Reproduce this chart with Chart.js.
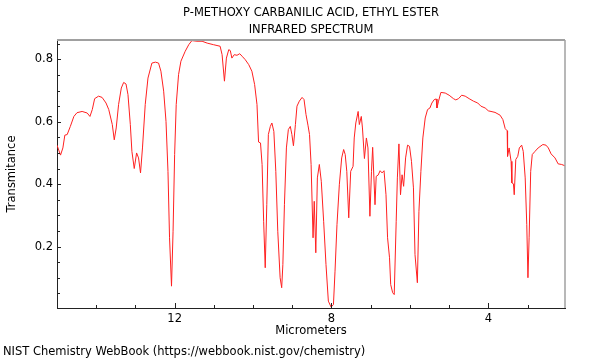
<!DOCTYPE html>
<html>
<head>
<meta charset="utf-8">
<script src="https://cdn.jsdelivr.net/npm/chart.js@4"></script>
<style>
  html, body { margin: 0; padding: 0; background: #fff; }
  #wrap { width: 600px; height: 360px; }
</style>
</head>
<body>
<div id="wrap"><canvas id="ir-canvas" width="600" height="360"></canvas></div>
<script>
// IR spectrum (wavelength in micrometers, transmittance)
const wavelength = [15.00,14.91,14.85,14.80,14.74,14.66,14.57,14.49,14.36,14.23,
  14.16,14.10,14.04,13.94,13.85,13.75,13.68,13.59,13.54,13.49,
  13.43,13.36,13.30,13.24,13.19,13.13,13.09,13.03,12.97,12.92,
  12.87,12.82,12.75,12.68,12.58,12.49,12.41,12.35,12.28,12.22,
  12.17,12.13,12.08,12.04,12.00,11.96,11.90,11.84,11.73,11.64,
  11.56,11.43,11.30,11.17,11.01,10.84,10.79,10.73,10.68,10.62,
  10.58,10.54,10.48,10.41,10.34,10.28,10.20,10.11,10.03,9.96,
  9.90,9.86,9.81,9.77,9.73,9.69,9.65,9.61,9.56,9.52,
  9.47,9.42,9.37,9.31,9.27,9.24,9.20,9.15,9.10,9.05,
  9.01,8.97,8.92,8.88,8.82,8.75,8.70,8.65,8.60,8.56,
  8.52,8.47,8.44,8.40,8.36,8.31,8.26,8.20,8.14,8.08,
  8.01,7.95,7.91,7.86,7.80,7.74,7.69,7.65,7.61,7.56,
  7.51,7.45,7.42,7.38,7.32,7.29,7.24,7.21,7.16,7.11,
  7.07,7.02,6.98,6.95,6.89,6.86,6.81,6.76,6.71,6.66,
  6.61,6.57,6.52,6.49,6.44,6.40,6.35,6.32,6.28,6.24,
  6.20,6.16,6.11,6.06,6.01,5.96,5.91,5.87,5.81,5.77,
  5.72,5.67,5.61,5.55,5.49,5.44,5.38,5.33,5.31,5.27,
  5.21,5.10,5.00,4.89,4.83,4.76,4.68,4.59,4.49,4.38,
  4.27,4.19,4.08,4.00,3.83,3.70,3.63,3.57,3.52,3.51,
  3.47,3.45,3.42,3.40,3.36,3.34,3.30,3.25,3.21,3.15,
  3.11,3.06,3.02,2.99,2.96,2.92,2.88,2.81,2.73,2.61,
  2.53,2.47,2.40,2.30,2.22,2.13,2.05];

const transmittance = [0.525,0.493,0.516,0.557,0.559,0.585,0.617,0.629,0.633,0.628,
  0.617,0.639,0.674,0.682,0.678,0.660,0.639,0.591,0.542,0.580,
  0.655,0.708,0.726,0.721,0.687,0.591,0.505,0.450,0.500,0.484,
  0.436,0.516,0.655,0.740,0.788,0.791,0.788,0.762,0.698,0.601,
  0.441,0.228,0.073,0.249,0.495,0.655,0.751,0.794,0.826,0.847,
  0.860,0.858,0.858,0.852,0.847,0.842,0.815,0.730,0.804,0.831,
  0.828,0.804,0.815,0.813,0.818,0.810,0.799,0.783,0.762,0.719,
  0.655,0.535,0.532,0.463,0.281,0.132,0.334,0.559,0.585,0.596,
  0.569,0.441,0.249,0.100,0.068,0.142,0.334,0.516,0.575,0.585,
  0.559,0.523,0.591,0.650,0.666,0.678,0.671,0.623,0.589,0.559,
  0.463,0.228,0.345,0.180,0.420,0.463,0.409,0.281,0.142,0.025,
  0.006,0.014,0.121,0.270,0.398,0.484,0.511,0.495,0.441,0.292,
  0.441,0.457,0.548,0.596,0.633,0.591,0.617,0.580,0.482,0.548,
  0.516,0.297,0.441,0.518,0.334,0.425,0.429,0.443,0.436,0.443,
  0.366,0.228,0.164,0.078,0.052,0.046,0.281,0.420,0.529,0.366,
  0.430,0.393,0.484,0.525,0.521,0.473,0.388,0.174,0.084,0.313,
  0.441,0.548,0.612,0.639,0.644,0.660,0.671,0.673,0.644,0.666,
  0.694,0.692,0.685,0.674,0.670,0.674,0.685,0.682,0.674,0.666,
  0.660,0.650,0.644,0.635,0.630,0.621,0.607,0.578,0.571,0.489,
  0.516,0.516,0.473,0.404,0.401,0.366,0.479,0.489,0.516,0.525,
  0.505,0.420,0.270,0.100,0.228,0.441,0.495,0.505,0.516,0.527,
  0.525,0.516,0.497,0.484,0.465,0.463,0.459];

// tick positions (every micrometer / every 0.05), labels only on some
const xTicks = [3, 4, 5, 6, 7, 8, 9, 10, 11, 12, 13, 14];
const xLabeled = [4, 8, 12];
const yTicks = [0.05, 0.10, 0.15, 0.20, 0.25, 0.30, 0.35, 0.40, 0.45, 0.50, 0.55, 0.60, 0.65, 0.70, 0.75, 0.80, 0.85];
const yLabeled = [0.2, 0.4, 0.6, 0.8];

const titleLines = ['P-METHOXY CARBANILIC ACID, ETHYL ESTER', 'INFRARED SPECTRUM'];
const footerText = 'NIST Chemistry WebBook (https://webbook.nist.gov/chemistry)';

const FONT = "'DejaVu Sans', sans-serif";
Chart.defaults.font.family = FONT;
Chart.defaults.font.size = 11.5;
Chart.defaults.color = '#000';

const isLabeled = (list, v) => list.some(l => Math.abs(l - v) < 1e-6);

// inward tick marks + grey top/right frame
const framePlugin = {
  id: 'frame',
  afterDraw(chart) {
    const { ctx, chartArea: a, scales: { x, y } } = chart;
    ctx.save();
    ctx.strokeStyle = '#222';
    ctx.lineWidth = 1;
    ctx.beginPath();
    x.ticks.forEach(t => {
      const px = Math.round(x.getPixelForValue(t.value)) + 0.5;
      const len = isLabeled(xLabeled, t.value) ? 5 : 3;
      ctx.moveTo(px, a.bottom);
      ctx.lineTo(px, a.bottom - len);
    });
    y.ticks.forEach(t => {
      const py = Math.round(y.getPixelForValue(t.value)) + 0.5;
      const len = isLabeled(yLabeled, t.value) ? 4 : 3;
      ctx.moveTo(a.left, py);
      ctx.lineTo(a.left + len, py);
    });
    ctx.stroke();

    ctx.strokeStyle = '#a0a0a0';
    ctx.lineWidth = 2;
    ctx.beginPath();
    ctx.moveTo(a.left, a.top);
    ctx.lineTo(a.right, a.top);
    ctx.stroke();
    ctx.lineWidth = 1.5;
    ctx.beginPath();
    ctx.moveTo(a.right, a.top);
    ctx.lineTo(a.right, a.bottom);
    ctx.stroke();
    ctx.restore();
  },
};

new Chart(document.getElementById('ir-canvas'), {
  type: 'line',
  data: {
    datasets: [{
      data: wavelength.map((w, i) => ({ x: w, y: transmittance[i] })),
      borderColor: '#ff2020',
      borderWidth: 1,
      pointRadius: 0,
      tension: 0,
      fill: false,
    }],
  },
  options: {
    responsive: false,
    animation: false,
    events: [],
    layout: { padding: { left: 3, right: 35, top: 0, bottom: 0 } },
    scales: {
      x: {
        type: 'linear',
        reverse: true,
        min: 2.045,
        max: 15,
        afterBuildTicks: s => { s.ticks = xTicks.map(v => ({ value: v })); },
        afterFit: s => { s.height = 35; },
        ticks: {
          autoSkip: false,
          maxRotation: 0,
          padding: 4.1,
          callback: v => isLabeled(xLabeled, v) ? String(v) : '',
        },
        grid: { display: true, drawOnChartArea: false, drawTicks: false },
        border: { display: true, color: '#222', width: 1 },
        title: { display: true, text: 'Micrometers', padding: { top: 0, bottom: 5.1 } },
      },
      y: {
        type: 'linear',
        min: 0.003,
        max: 0.862,
        afterBuildTicks: s => { s.ticks = yTicks.map(v => ({ value: v })); },
        afterFit: s => { s.width = 54; },
        ticks: {
          autoSkip: false,
          padding: 4,
          callback: v => isLabeled(yLabeled, v) ? v.toFixed(1) : '',
        },
        grid: { display: true, drawOnChartArea: false, drawTicks: false },
        border: { display: true, color: '#222', width: 1 },
        title: { display: true, text: 'Transmitance', padding: { top: 2.1, bottom: 0 } },
      },
    },
    plugins: {
      legend: { display: false },
      tooltip: { enabled: false },
      title: {
        display: true,
        text: titleLines,
        fullSize: false,
        font: { size: 11.5, weight: 'normal', lineHeight: 17 / 11.5 },
        padding: { top: 4.5, bottom: 1.5 },
      },
      subtitle: {
        display: true,
        text: footerText,
        position: 'bottom',
        align: 'start',
        font: { size: 11.5 },
        padding: { top: 2.1, bottom: 1.1 },
      },
    },
  },
  plugins: [framePlugin],
});
</script>
</body>
</html>
